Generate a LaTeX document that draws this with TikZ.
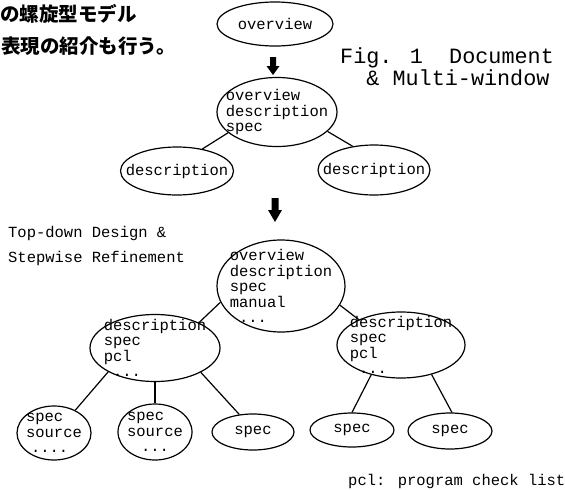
\documentclass[tikz,border=0pt]{standalone}
\usepackage{fontspec}
\setmainfont{Liberation Mono}
\newfontfamily\mono{Liberation Mono}
\newfontfamily\cjk{Noto Sans CJK JP}
\usetikzlibrary{shapes.geometric}
\begin{document}
\begin{tikzpicture}[x=1pt,y=-1pt,
  ell/.style={draw, ellipse, line width=1.2pt, inner sep=0pt},
  txt/.style={font=\mono\fontsize{15.5}{15.5}\selectfont, align=left, inner sep=0pt},
  conn/.style={line width=1.2pt},
  blk/.style={fill=black},
  jp/.style={font=\cjk\bfseries\fontsize{19.5}{19.5}\selectfont, anchor=base west, inner sep=0pt},
  capt/.style={font=\mono\fontsize{21.8}{18}\selectfont, align=left, anchor=north west, inner sep=0pt},
  side/.style={font=\mono\fontsize{15.5}{15.5}\selectfont, anchor=base west, inner sep=0pt},
]
\useasboundingbox (0,0) rectangle (565,490);

% Japanese text
\node[jp] (j1) at (0,21) {の螺旋型モデル};
\node[jp] (j2) at (1,53) {表現の紹介も行う。};

% caption
\node[capt] (cap) at (340,48) {Fig. 1\ \ Document\\\ \ \& Multi-window};

% side text
\node[side] (s1) at (8,237) {Top-down Design \&};
\node[side] (s2) at (8,262) {Stepwise Refinement};
\node[side] (pcl) at (348,485) {pcl: program check list};

% stage 1
\node[ell, minimum width=116pt, minimum height=44pt, label={[txt]center:overview}] (O) at (275,24) {};

% arrow 1
\fill[blk] (270,57) -- (276,57) -- (276,66) -- (279.5,66) -- (273,75) -- (266.5,66) -- (270,66) -- cycle;

% stage 2
\node[ell, minimum width=120pt, minimum height=69pt, label={[txt]center:{overview\\description\\spec}}] (M) at (277,112) {};
\node[ell, minimum width=113pt, minimum height=48pt, label={[txt]center:description}] (D1) at (177,171) {};
\node[ell, minimum width=112pt, minimum height=50pt, label={[txt]center:description}] (D2) at (374,170) {};
\draw[conn] (M.203) -- (D1.41);
\draw[conn] (M.339) -- (D2.132);

% arrow 2
\fill[blk] (271.5,198) -- (278.5,198) -- (278.5,210) -- (282,210) -- (275,222) -- (268,210) -- (271.5,210) -- cycle;

% stage 3
\node[ell, minimum width=128pt, minimum height=92pt, label={[txt]center:{overview\\description\\spec\\manual\\\phantom{x}...}}] (T) at (281,286) {};
\node[ell, minimum width=130pt, minimum height=67pt, label={[txt]center:{description\\spec\\pcl\\\phantom{x}...}}] (L) at (155,348) {};
\node[ell, minimum width=128pt, minimum height=66pt, label={[txt]center:{description\\spec\\pcl\\\phantom{x}...}}] (R) at (401,345) {};
\node[ell, minimum width=74pt, minimum height=54pt, label={[txt]center:{spec\\source\\\hspace*{5pt}....}}] (n1) at (54,433) {};
\node[ell, minimum width=74pt, minimum height=56pt, label={[txt]center:{spec\\source\\\hspace*{14pt}...}}] (n2) at (155,432) {};
\node[ell, minimum width=82pt, minimum height=36pt, label={[txt]center:spec}] (n3) at (253,432) {};
\node[ell, minimum width=84pt, minimum height=34pt, label={[txt]center:spec}] (n4) at (352,430) {};
\node[ell, minimum width=84pt, minimum height=36pt, label={[txt]center:spec}] (n5) at (450,431) {};

\draw[conn] (T.195) -- (L.30);
\draw[conn] (T.342) -- (R.149);
\draw[conn] (L.207) -- (n1.47);
\draw[conn] (L.270) -- (n2.90);
\draw[conn] (L.332) -- (n3.128);
\draw[conn] (R.225) -- (n4.90);
\draw[conn] (R.316) -- (n5.84);
\end{tikzpicture}
\end{document}
